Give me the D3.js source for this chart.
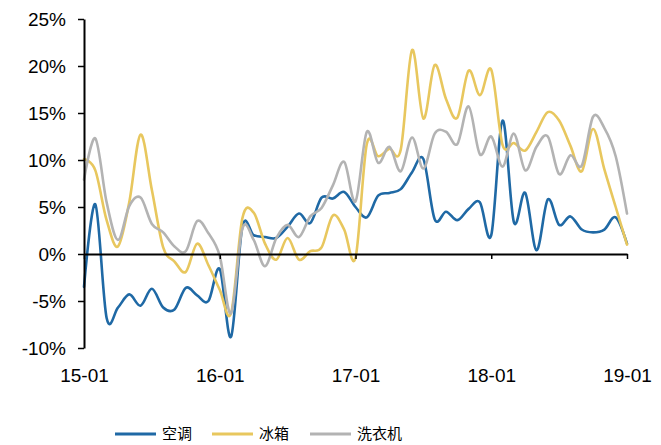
<!DOCTYPE html>
<html>
<head>
<meta charset="utf-8">
<script src="https://cdn.jsdelivr.net/npm/d3@7"></script>
<style>
  html, body { margin: 0; padding: 0; background: #fff; }
  svg { display: block; }
  .tick text { font-family: "Liberation Sans", Arial, sans-serif; fill: #000; }
</style>
</head>
<body>
<svg id="chart" width="661" height="445"></svg>
<script>
// Monthly year-on-year growth (%), Jan 2015 – Jan 2019
const months = [];
for (let y = 15; y <= 19; y++) {
  for (let m = 1; m <= 12; m++) {
    if (y === 19 && m > 1) break;
    months.push(y + "-" + String(m).padStart(2, "0"));
  }
}

const airConditioner = [
  -3.5, 5.3, -6.8, -5.7, -4.3, -5.5, -3.7, -5.7, -5.9, -3.6, -4.4, -5.0,
  -1.6, -8.8, 2.9, 2.0, 1.8, 1.7, 2.9, 4.3, 3.3, 6.0, 5.9, 6.6,
  5.0, 3.9, 6.2, 6.5, 6.9, 8.7, 10.1, 3.7, 4.5, 3.6, 4.8, 5.5,
  2.0, 14.2, 3.4, 6.5, 0.4, 5.8, 3.1, 4.0, 2.6, 2.3, 2.6, 3.9,
  1.1
];
const refrigerator = [
  10.1, 8.9, 3.6, 0.8, 5.5, 12.7, 6.8, 0.7, -0.8, -1.9, 1.1, -1.2,
  -3.8, -6.3, 3.8, 4.4, 1.1, -0.6, 1.7, -0.6, 0.3, 0.7, 4.1, 2.6,
  -0.4, 11.7, 10.4, 11.2, 11.1, 21.7, 14.4, 20.1, 16.5, 14.5, 19.5, 16.9,
  19.6, 11.6, 11.8, 11.0, 13.0, 15.1, 14.2, 11.5, 8.8, 13.3, 9.0, 5.0,
  1.0
];
const washer = [
  7.9, 12.3, 5.5, 1.5, 5.1, 6.0, 3.2, 2.3, 0.8, 0.3, 3.5, 2.2,
  -0.2, -6.3, 2.7, 1.5, -1.3, 1.7, 3.1, 1.8, 4.0, 4.9, 7.3, 9.8,
  5.6, 13.0, 9.7, 11.4, 8.8, 12.4, 9.1, 12.8, 13.0, 11.7, 15.7, 10.6,
  12.5, 9.3, 12.8, 8.9, 11.4, 12.5, 8.5, 10.5, 9.4, 14.6, 13.4, 10.4,
  4.3
];

const seriesNames = ["空调", "冰箱", "洗衣机"];
const seriesColors = ["#1f69a5", "#e8c75e", "#b3b3b3"];
const yTicks = [-10, -5, 0, 5, 10, 15, 20, 25];
const xTickLabels = ["15-01", "16-01", "17-01", "18-01", "19-01"];

const seriesData = [airConditioner, refrigerator, washer];

const svg = d3.select("#chart");
const plot = { left: 84, right: 627, top: 19, bottom: 348 };

const x = d3.scalePoint().domain(months).range([plot.left, plot.right]);
const y = d3.scaleLinear().domain([-10, 25]).range([plot.bottom, plot.top]);

// Smoothed series lines
const line = d3.line()
  .x((d, i) => x(months[i]))
  .y(d => y(d))
  .curve(d3.curveCatmullRom.alpha(0));

svg.append("g")
  .selectAll("path")
  .data(seriesData)
  .join("path")
  .attr("d", d => line(d))
  .attr("fill", "none")
  .attr("stroke", (d, i) => seriesColors[i])
  .attr("stroke-width", 2.6)
  .attr("stroke-linejoin", "round")
  .attr("stroke-linecap", "round");

// Horizontal axis along the zero line, with year ticks pointing down
const xAxisLine = svg.append("g")
  .attr("transform", `translate(0,${y(0)})`)
  .call(d3.axisBottom(x).tickValues(xTickLabels).tickSizeInner(5).tickSizeOuter(0).tickFormat(""));
xAxisLine.select(".domain").attr("stroke", "#000").attr("stroke-width", 2);
xAxisLine.selectAll(".tick line").attr("stroke", "#000").attr("stroke-width", 1.5);

// Year labels below the plot
const xLabels = svg.append("g")
  .attr("transform", `translate(0,${plot.bottom})`)
  .call(d3.axisBottom(x).tickValues(xTickLabels).tickSize(0).tickPadding(21));
xLabels.select(".domain").remove();
xLabels.selectAll("text").attr("font-size", 19);

// Vertical axis
const yAxis = svg.append("g")
  .attr("transform", `translate(${plot.left},0)`)
  .call(d3.axisLeft(y).tickValues(yTicks).tickSizeInner(6).tickSizeOuter(0)
    .tickPadding(12).tickFormat(d => d + "%"));
yAxis.select(".domain").attr("stroke", "#000").attr("stroke-width", 2);
yAxis.selectAll(".tick line").attr("stroke", "#000").attr("stroke-width", 1.5);
yAxis.selectAll("text").attr("font-size", 19);

// Legend
const legendX = [115, 212, 310];
const legend = svg.append("g")
  .selectAll("g")
  .data(seriesNames)
  .join("g")
  .attr("transform", (d, i) => `translate(${legendX[i]},434)`);
legend.append("line")
  .attr("x1", 0).attr("x2", 41).attr("y1", 0).attr("y2", 0)
  .attr("stroke", (d, i) => seriesColors[i])
  .attr("stroke-width", 3);
legend.append("text")
  .attr("x", 47).attr("y", 0).attr("dy", "0.36em")
  .attr("font-family", "'Noto Sans CJK SC', sans-serif")
  .attr("font-size", 15)
  .attr("fill", "#000")
  .text(d => d);
</script>
</body>
</html>
